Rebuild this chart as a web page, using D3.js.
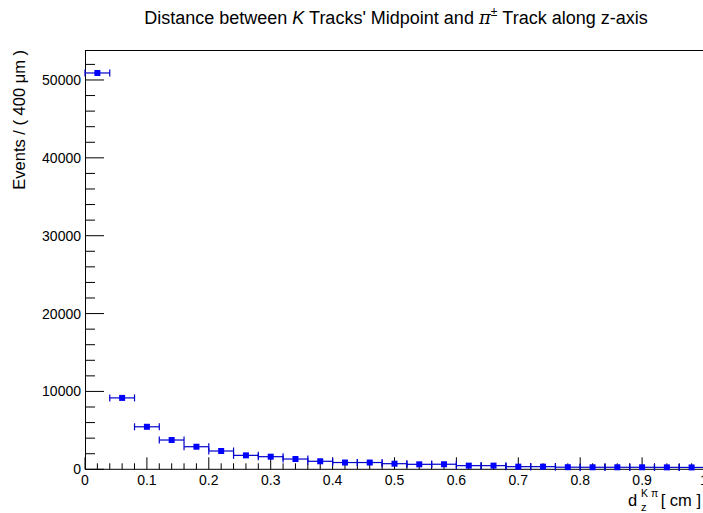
<!DOCTYPE html>
<html>
<head>
<meta charset="utf-8">
<script src="https://cdn.jsdelivr.net/npm/d3@7"></script>
<style>
  html, body { margin: 0; padding: 0; background: #fff; }
  svg { display: block; font-family: "Liberation Sans", Arial, Helvetica, sans-serif; }
</style>
</head>
<body>
<svg id="chart" width="703" height="513"></svg>
<script>
// ---- data ----
const binCenters = [0.02,0.06,0.10,0.14,0.18,0.22,0.26,0.30,0.34,0.38,0.42,0.46,0.50,0.54,0.58,0.62,0.66,0.70,0.74,0.78,0.82,0.86,0.90,0.94,0.98];
const binWidth = 0.04;
const counts = [50900,9170,5460,3760,2900,2350,1790,1620,1320,1030,870,870,720,640,650,470,470,340,340,270,260,260,260,250,240];
const xTickValues = [0,0.1,0.2,0.3,0.4,0.5,0.6,0.7,0.8,0.9,1];
const xTickLabels = ["0","0.1","0.2","0.3","0.4","0.5","0.6","0.7","0.8","0.9","1"];
const yTickValues = [0,10000,20000,30000,40000,50000];
const yTickLabels = ["0","10000","20000","30000","40000","50000"];

(function () {
const svg = d3.select("#chart");
const pL = 85, pR = 704, pT = 50, pB = 469.3;
const x = d3.scaleLinear().domain([0, 1]).range([pL, pR]);
const y = d3.scaleLinear().domain([0, 53850]).range([pB, pT]);

// frame
svg.append("line").attr("x1", pL).attr("x2", 703).attr("y1", pT + 0.5).attr("y2", pT + 0.5)
  .attr("stroke", "#000").attr("stroke-width", 1);
svg.append("line").attr("x1", pL + 0.5).attr("x2", pL + 0.5).attr("y1", pT).attr("y2", pB)
  .attr("stroke", "#000").attr("stroke-width", 1);
svg.append("line").attr("x1", pL).attr("x2", 703).attr("y1", pB).attr("y2", pB)
  .attr("stroke", "#000").attr("stroke-width", 1);

// y ticks (inward)
const yMinor = d3.range(0, 53850, 2000);
const gy = svg.append("g");
gy.selectAll("line").data(yMinor).join("line")
  .attr("x1", pL).attr("x2", d => pL + (d % 10000 === 0 ? 19 : 10))
  .attr("y1", d => y(d)).attr("y2", d => y(d))
  .attr("stroke", "#000").attr("stroke-width", 1);
gy.selectAll("text").data(yTickValues).join("text")
  .attr("x", 81).attr("y", d => y(d)).attr("dy", "0.36em")
  .attr("text-anchor", "end").attr("font-size", 14)
  .text((d, i) => yTickLabels[i]);

// x ticks (inward)
const xMinor = d3.range(0, 51).map(i => i * 0.02);
const gx = svg.append("g");
gx.selectAll("line").data(xMinor).join("line")
  .attr("x1", d => x(d)).attr("x2", d => x(d))
  .attr("y1", pB).attr("y2", (d, i) => pB - (i % 5 === 0 ? 12 : 6))
  .attr("stroke", "#000").attr("stroke-width", 1);
gx.selectAll("text").data(xTickValues).join("text")
  .attr("x", d => x(d)).attr("y", 485)
  .attr("text-anchor", "middle").attr("font-size", 14)
  .text((d, i) => xTickLabels[i]);

// data points with error bars
const blue = "#0000ff";
const lineBlue = "#0000cc";
const g = svg.append("g");
binCenters.forEach((c, i) => {
  const v = counts[i];
  const x0 = x(c - binWidth / 2), x1 = x(c + binWidth / 2), yc = y(v);
  const err = Math.sqrt(v);
  g.append("line").attr("x1", x0).attr("x2", x1).attr("y1", yc).attr("y2", yc)
    .attr("stroke", lineBlue).attr("stroke-width", 1.2);
  [x0, x1].forEach(xx => g.append("line").attr("x1", xx).attr("x2", xx)
    .attr("y1", yc - 3.5).attr("y2", yc + 3.5).attr("stroke", lineBlue).attr("stroke-width", 1.2));
  g.append("line").attr("x1", x(c)).attr("x2", x(c)).attr("y1", y(v + err)).attr("y2", y(v - err))
    .attr("stroke", lineBlue).attr("stroke-width", 1.2);
  g.append("rect").attr("x", x(c) - 3).attr("y", yc - 3).attr("width", 6).attr("height", 6)
    .attr("fill", blue);
});

// title
const title = svg.append("text").attr("x", 396).attr("y", 24).attr("text-anchor", "middle").attr("font-size", 18);
title.append("tspan").text("Distance between ");
title.append("tspan").attr("font-style", "italic").text("K");
title.append("tspan").text(" Tracks' Midpoint and ");
title.append("tspan").attr("font-style", "italic").attr("font-family", "DejaVu Serif, serif").text("π");
title.append("tspan").attr("font-size", 12).attr("dy", -8).text("±");
title.append("tspan").attr("dy", 8).text(" Track along z-axis");

// y axis title
svg.append("text").attr("transform", "translate(25,50) rotate(-90)")
  .attr("text-anchor", "end").attr("font-size", 16.5)
  .text("Events / ( 400 μm )");

// x axis title
svg.append("text").attr("x", 628).attr("y", 506).attr("font-size", 16.5).text("d");
svg.append("text").attr("x", 641).attr("y", 497).attr("font-size", 10.5).text("K π");
svg.append("text").attr("x", 641).attr("y", 511).attr("font-size", 11).text("z");
svg.append("text").attr("x", 701).attr("y", 506).attr("text-anchor", "end").attr("font-size", 16.5).text("[ cm ]");
})();
</script>
</body>
</html>
